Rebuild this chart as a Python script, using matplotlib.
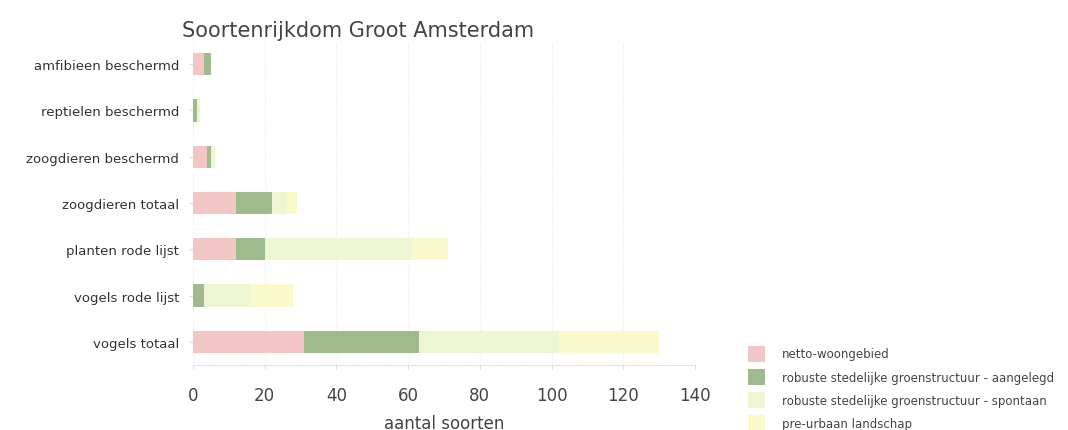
import matplotlib
matplotlib.use("Agg")
import matplotlib.pyplot as plt
import numpy as np

categories = ["amfibieen beschermd", "reptielen beschermd", "zoogdieren beschermd",
              "zoogdieren totaal", "planten rode lijst", "vogels rode lijst", "vogels totaal"]
series_names = ["netto-woongebied",
                "robuste stedelijke groenstructuur - aangelegd",
                "robuste stedelijke groenstructuur - spontaan",
                "pre-urbaan landschap"]
netto = [3, 0, 4, 12, 12, 0, 31]
aangelegd = [2, 1, 1, 10, 8, 3, 32]
spontaan = [0, 1, 1, 4, 41, 13, 39]
pre_urbaan = [0, 0, 0, 3, 10, 12, 28]
x_ticks = [0, 20, 40, 60, 80, 100, 120, 140]

colors = ["#f3c6c6", "#9fba8c", "#edf5d3", "#f9f9cc"]
text_col = "#444444"

plt.rcParams["font.family"] = ["DejaVu Sans"]

fig = plt.figure(figsize=(10.68, 4.31), dpi=100)
ax = fig.add_axes([193 / 1068, 1 - 366 / 431, (695 - 193) / 1068, (366 - 42) / 431])

y = np.arange(len(categories))
left = np.zeros(len(categories))
for vals, col, name in zip([netto, aangelegd, spontaan, pre_urbaan], colors, series_names):
    ax.barh(y, vals, left=left, height=0.48, color=col, label=name,
            edgecolor="none", zorder=3)
    left += np.array(vals)

ax.set_ylim(len(categories) - 0.5, -0.5)
ax.set_xlim(0, 140)
ax.set_xticks(x_ticks)
ax.set_xticklabels([str(t) for t in x_ticks], fontsize=12, color=text_col)
ax.set_yticks(y)
ax.set_yticklabels(categories, fontsize=9.5, color="#333333")
ax.tick_params(axis="x", length=3, color="#dddddd", pad=12)
ax.tick_params(axis="y", length=3, color="#dddddd", pad=7)
ax.grid(axis="x", color="#e6e6e6", linestyle=":", linewidth=0.8, zorder=0)
for s in ["top", "right", "left"]:
    ax.spines[s].set_visible(False)
ax.spines["bottom"].set_color("#dddddd")
ax.spines["bottom"].set_linestyle(":")

ax.set_xlabel("aantal soorten", fontsize=12, color=text_col, labelpad=7)
fig.text(358 / 1068, 1 - 31 / 431, "Soortenrijkdom Groot Amsterdam",
         fontsize=15, color=text_col, ha="center", va="center")

handles, labels = ax.get_legend_handles_labels()
fig.legend(handles, labels, loc="upper left", bbox_to_anchor=(737 / 1068, 1 - 336 / 431),
           frameon=False, fontsize=8.5, labelcolor=text_col, handlelength=1.5,
           handleheight=1.7, labelspacing=0.62, handletextpad=1.4)

fig.savefig("out.png", dpi=100, facecolor="white")
